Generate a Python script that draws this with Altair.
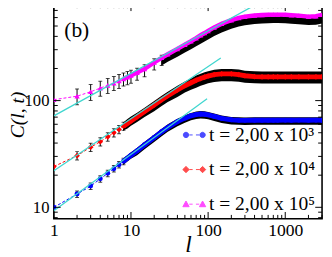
import altair as alt
import pandas as pd

# ---------------- data ----------------
L = [1, 2, 3, 4, 5, 6, 7, 8, 9, 10, 12, 15, 20, 25, 30, 40, 50, 60, 70, 80, 90,
     100, 120, 150, 200, 250, 300, 400, 500, 600, 700, 800, 1000, 1200, 1500,
     2000, 2500, 3000]

blue_C = [10.0, 13.3, 15.8, 18.5, 20.8, 23.0, 25.1, 27.0, 28.9, 30.7, 33.8, 38.5,
          45, 51, 56, 63.5, 68.5, 72, 74, 74.8, 74.5, 73.5, 71, 68, 66, 65.5, 65.3,
          65.5, 65.5, 65.6, 65.5, 65.5, 65.6, 65.5, 65.6, 65.5, 65.6, 65.5]
blue_black = [10.0, 13.3, 15.8, 18.5, 20.8, 23.0, 25.1, 27.0, 28.9, 30.7, 33.5, 38,
              44.5, 50.5, 55.5, 62.5, 67.5, 71, 73, 73.8, 73.5, 72.5, 70, 67, 65,
              64.5, 64.3, 64.5, 64.5, 64.5, 64.5, 64.5, 64.5, 64.5, 64.5, 64.5, 64.5, 64.5]
blue_err = [0.0, 0.07, 0.07, 0.07, 0.07, 0.07, 0.07, 0.07, 0.07, 0.07, 0.08, 0.08,
            0.08, 0.08, 0.08, 0.08, 0.08, 0.08, 0.08, 0.08, 0.08, 0.08, 0.08, 0.08,
            0.08, 0.08, 0.08, 0.08, 0.08, 0.08, 0.08, 0.08, 0.08, 0.08, 0.08, 0.08,
            0.08, 0.08]

red_C = [24.1, 30.5, 36.6, 41.2, 45.8, 50, 53.7, 57.5, 61, 64.5, 70.5, 79, 91, 102,
         111, 126, 138, 147, 155, 161, 166, 170, 175, 178, 178, 175, 171, 168, 167,
         167, 167, 167, 167, 167, 167, 167, 167, 167]
red_black = [24.1, 30.5, 36.6, 41.2, 45.8, 50, 53.7, 57.5, 61, 64.5, 70, 78, 89.5,
             100, 109, 123, 135, 144, 152, 158, 163, 167, 172, 175, 175, 173, 169,
             167, 166, 166, 166, 166, 166, 166, 166, 166, 166, 166]
red_err = [0.0, 0.09, 0.09, 0.09, 0.09, 0.09, 0.09, 0.09, 0.1, 0.1, 0.1, 0.1, 0.11,
           0.11, 0.11, 0.12, 0.12, 0.12, 0.13, 0.13, 0.13, 0.13, 0.13, 0.13, 0.13,
           0.13, 0.13, 0.13, 0.13, 0.13, 0.13, 0.13, 0.13, 0.13, 0.13, 0.13, 0.13, 0.13]

mag_C = [102, 110, 121, 131, 139, 146, 153, 160, 166, 172, 183, 198, 228, 252, 272,
         305, 335, 360, 385, 410, 430, 450, 485, 525, 568, 595, 612, 628, 635, 638,
         640, 640, 638, 633, 625, 612, 618, 635]
mag_black = [102, 110, 121, 131, 139, 146, 153, 159, 164, 169, 178, 192, 220, 240,
             257, 287, 314, 337, 359, 380, 398, 415, 447, 484, 524, 550, 565, 580,
             587, 590, 592, 592, 590, 585, 578, 567, 572, 587]
mag_err = [0.0, 0.17, 0.17, 0.16, 0.16, 0.15, 0.15, 0.14, 0.14, 0.14, 0.13, 0.13,
           0.12, 0.11, 0.1, 0.1, 0.1, 0.1, 0.1, 0.1, 0.1, 0.1, 0.1, 0.1, 0.1, 0.1,
           0.1, 0.1, 0.1, 0.1, 0.1, 0.1, 0.1, 0.1, 0.1, 0.1, 0.1, 0.1]

# power-law fits (cyan): end points
blue_fit_l, blue_fit_C = [1, 97], [9.3, 104]
red_fit_l, red_fit_C = [1, 146], [22, 251]
mag_fit_l, mag_fit_C = [1, 410], [72, 790]

labels = ["t = 2,00 x 10³", "t = 2,00 x 10⁴", "t = 2,00 x 10⁵"]
colors = ["#0000ff", "#ff0000", "#ff00ff"]

x_major = [1, 10, 100, 1000]
x_minor = [2, 3, 4, 5, 6, 7, 8, 9, 20, 30, 40, 50, 60, 70, 80, 90, 200, 300, 400,
           500, 600, 700, 800, 900, 2000, 3000]
y_major = [10, 100]
y_minor = [8, 9, 20, 30, 40, 50, 60, 70, 80, 90, 200, 300, 400, 500, 600, 700]

# ---------------- chart ----------------
W, H = 275, 220
FONT = "Liberation Serif"
CYAN = "#3fd6cf"

xs = alt.Scale(type="log", domain=[1, 3000], nice=False)
ys = alt.Scale(type="log", domain=[7.8, 800], nice=False)
xax = alt.Axis(values=x_major, ticks=False, domain=False, grid=False, format="d",
               labelFont=FONT, labelFontSize=18, labelColor="black", labelPadding=3,
               labelFlush=False, title="l", titleFont=FONT, titleFontSize=24,
               titleFontStyle="italic", titleFontWeight="normal", titleColor="black",
               titleBaseline="alphabetic", titleY=34)
yax = alt.Axis(values=y_major, ticks=False, domain=False, grid=False, format="d",
               labelFont=FONT, labelFontSize=17, labelColor="black", labelPadding=5,
               labelFlush=False, title="C(l, t)", titleFont=FONT, titleFontSize=20,
               titleFontStyle="italic", titleFontWeight="normal", titleColor="black",
               titleAngle=270, titleBaseline="middle", titleAlign="center",
               titleX=-37, titleY=113)


def X(f):
    return alt.X(f, type="quantitative", scale=xs, axis=xax)


def Y(f):
    return alt.Y(f, type="quantitative", scale=ys, axis=yax)


def series_layers(C, black, err, color, shape, msize, band_from, lw):
    df = pd.DataFrame({"l": L, "C": C, "Cb": black, "err": err})
    df["lo"] = df["Cb"] * (1 - df["err"])
    df["hi"] = df["Cb"] * (1 + df["err"])
    base = alt.Chart(df)
    band = base.transform_filter(f"datum.l >= {band_from}").mark_area(
        color="black", clip=True).encode(x=X("l"), y=Y("lo"), y2="hi")
    bars_df = base.transform_filter(f"datum.l >= 2 && datum.l <= {band_from}")
    bars = bars_df.mark_rule(color="black", strokeWidth=1, clip=True).encode(
        x=X("l"), y=Y("lo"), y2="hi")
    cap_lo = bars_df.mark_tick(color="black", orient="horizontal", size=4,
                               thickness=1, clip=True).encode(x=X("l"), y=Y("lo"))
    cap_hi = bars_df.mark_tick(color="black", orient="horizontal", size=4,
                               thickness=1, clip=True).encode(x=X("l"), y=Y("hi"))
    dashed = base.mark_line(color=color, strokeWidth=1, strokeDash=[3, 2],
                            clip=True).encode(x=X("l"), y=Y("C"))
    thick = base.transform_filter("datum.l >= 8").mark_line(
        color=color, strokeWidth=lw, clip=True).encode(x=X("l"), y=Y("C"))
    pts = base.mark_point(color=color, filled=True, shape=shape, size=msize,
                          opacity=1, clip=True).encode(x=X("l"), y=Y("C"))
    return [band, bars, cap_lo, cap_hi, dashed, thick, pts]


def fit_layer(fl, fc):
    df = pd.DataFrame({"l": fl, "C": fc})
    return alt.Chart(df).mark_line(color=CYAN, strokeWidth=1.3, clip=True).encode(
        x=X("l"), y=Y("C"))


layers = []
layers += series_layers(blue_C, blue_black, blue_err, colors[0], "circle", 26, 8, 5)
layers += series_layers(red_C, red_black, red_err, colors[1], "diamond", 34, 8, 5)
layers += series_layers(mag_C, mag_black, mag_err, colors[2], "triangle-up", 30, 25, 4.5)
layers += [fit_layer(blue_fit_l, blue_fit_C), fit_layer(red_fit_l, red_fit_C),
           fit_layer(mag_fit_l, mag_fit_C)]


# inward ticks on all four sides, placed through the scales
def xticks(vals, ln):
    d = alt.Chart(pd.DataFrame({"v": vals}))
    b = d.mark_rule(color="black", strokeWidth=1).encode(
        x=X("v"), y=alt.value(H), y2=alt.value(H - ln))
    t = d.mark_rule(color="black", strokeWidth=1).encode(
        x=X("v"), y=alt.value(0), y2=alt.value(ln))
    return [b, t]


def yticks(vals, ln):
    d = alt.Chart(pd.DataFrame({"v": vals}))
    lft = d.mark_rule(color="black", strokeWidth=1).encode(
        y=Y("v"), x=alt.value(0), x2=alt.value(ln))
    rgt = d.mark_rule(color="black", strokeWidth=1).encode(
        y=Y("v"), x=alt.value(W - ln), x2=alt.value(W))
    return [lft, rgt]


layers += xticks(x_major, 7) + xticks(x_minor, 4)
layers += yticks(y_major, 7) + yticks(y_minor, 4)

# panel label
layers.append(alt.Chart(pd.DataFrame({"t": ["(b)"]})).mark_text(
    font=FONT, fontSize=22, color="black", align="center", baseline="middle").encode(
    text="t:N", x=alt.value(23.5), y=alt.value(27)))


# legend
def circ(cx, r):
    return f"M{cx + r},0A{r},{r} 0 1,1 {cx - r},0A{r},{r} 0 1,1 {cx + r},0Z"


def diam(cx, r):
    return f"M{cx},{-r}L{cx + r},0L{cx},{r}L{cx - r},0Z"


def tri(cx, r):
    return f"M{cx},{-r}L{cx + r},{r * 0.8}L{cx - r},{r * 0.8}Z"


dashes = "M-0.6,0H-0.2M0.2,0H0.6"
paths = [circ(-1, 0.32) + circ(1, 0.32) + dashes,
         diam(-1, 0.38) + diam(1, 0.38) + dashes,
         tri(-1, 0.38) + tri(1, 0.38) + dashes]

legend = alt.Legend(orient="none", legendX=134, legendY=124, title=None,
                    labelFont=FONT, labelFontSize=20, labelColor="black",
                    labelLimit=300, symbolSize=289, rowPadding=15.5, labelOffset=5,
                    padding=0, symbolStrokeWidth=1)
lscale = alt.Scale(domain=labels, range=colors)
leg_layer = alt.Chart(pd.DataFrame({"label": labels})).transform_filter(
    "false").mark_point(filled=True, size=289, strokeWidth=1).encode(
    color=alt.Color("label:N", scale=lscale, legend=legend),
    stroke=alt.Stroke("label:N", scale=lscale, legend=legend),
    shape=alt.Shape("label:N", scale=alt.Scale(domain=labels, range=paths),
                    legend=legend))
layers.append(leg_layer)

chart = alt.layer(*layers).properties(
    width=W, height=H,
    autosize=alt.AutoSizeParams(type="none"),
    padding={"left": 47, "top": -7, "right": 2, "bottom": 36},
    background="white",
).configure_view(stroke="black", strokeWidth=1.6)

chart.save("out.html", embed_options={"renderer": "svg", "actions": False})
